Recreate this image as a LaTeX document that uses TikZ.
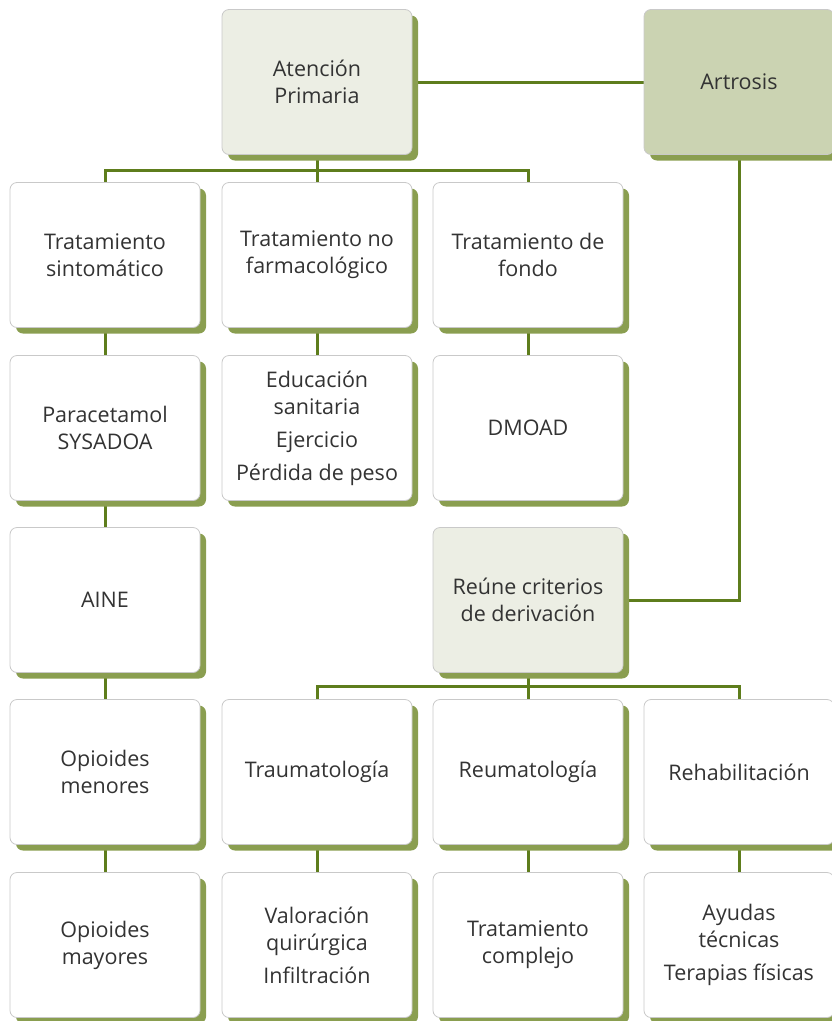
\documentclass[tikz,border=0pt]{standalone}
\usepackage{fontspec}
\setmainfont{Open Sans}
\usetikzlibrary{shadows,backgrounds}

\definecolor{linegreen}{HTML}{5E7D1C}
\definecolor{shadegreen}{HTML}{8A9E50}
\definecolor{palegreen}{HTML}{ECEEE4}
\definecolor{darkpale}{HTML}{CBD3B2}
\definecolor{boxline}{HTML}{C9C9C9}
\definecolor{txt}{HTML}{333333}

\begin{document}
\begin{tikzpicture}[x=1pt,y=-1pt,
    box/.style={draw=boxline, line width=0.8pt, fill=white, rounded corners=7pt,
        minimum width=190pt, minimum height=145pt, align=center, text=txt,
        font=\fontsize{21.5}{27}\selectfont,
        drop shadow={shadow xshift=6pt, shadow yshift=-6pt, fill=shadegreen, opacity=1}},
    lightbox/.style={box, fill=palegreen},
    darkbox/.style={box, fill=darkpale},
    conn/.style={draw=linegreen, line width=3pt}]
    
    \useasboundingbox (0,0) rectangle (832,1021);
    
    % fila superior
    \node[lightbox] (AP) at (317,82) {Atención\\Primaria};
    \node[darkbox] (AR) at (739,82) {Artrosis};
    
    % tratamientos
    \node[box] (TS) at (105,255) {Tratamiento\\sintomático};
    \node[box] (TN) at (317,255) {Tratamiento no\\farmacológico};
    \node[box] (TF) at (528,255) {Tratamiento de\\fondo};
    
    \node[box] (PS) at (105,428) {Paracetamol\\SYSADOA};
    \node[box] (ED) at (317,428) {Educación\\sanitaria\\[6pt]Ejercicio\\[6pt]Pérdida de peso};
    \node[box] (DM) at (528,428) {DMOAD};
    
    \node[box] (AI) at (105,600) {AINE};
    \node[lightbox] (RC) at (528,600) {Reúne criterios\\de derivación};
    
    % derivacion
    \node[box] (OM) at (105,772) {Opioides\\menores};
    \node[box] (TR) at (317,772) {Traumatología};
    \node[box] (RE) at (528,772) {Reumatología};
    \node[box] (RH) at (739,772) {Rehabilitación};
    
    \node[box] (OY) at (105,945) {Opioides\\mayores};
    \node[box] (VQ) at (317,945) {Valoración\\quirúrgica\\[6pt]Infiltración};
    \node[box] (TC) at (528,945) {Tratamiento\\complejo};
    \node[box] (AT) at (739,945) {Ayudas\\técnicas\\[6pt]Terapias físicas};
    
    \coordinate (bA) at (317,170);
    \coordinate (bR) at (528,686);
    
    \begin{scope}[on background layer]
    \draw[conn] (AP.east) -- (AR.west);
    \draw[conn] (AP.south) -- (TN.north);
    \draw[conn] (TS.north) |- (bA) -| (TF.north);
    \draw[conn] (AR.south) |- (RC.east);
    
    \draw[conn] (TS) -- (PS);
    \draw[conn] (PS) -- (AI);
    \draw[conn] (AI) -- (OM);
    \draw[conn] (OM) -- (OY);
    \draw[conn] (TN) -- (ED);
    \draw[conn] (TF) -- (DM);
    
    \draw[conn] (RC.south) -- (RE.north);
    \draw[conn] (TR.north) |- (bR) -| (RH.north);
    \draw[conn] (TR) -- (VQ);
    \draw[conn] (RE) -- (TC);
    \draw[conn] (RH) -- (AT);
    \end{scope}
    
\end{tikzpicture}
\end{document}
